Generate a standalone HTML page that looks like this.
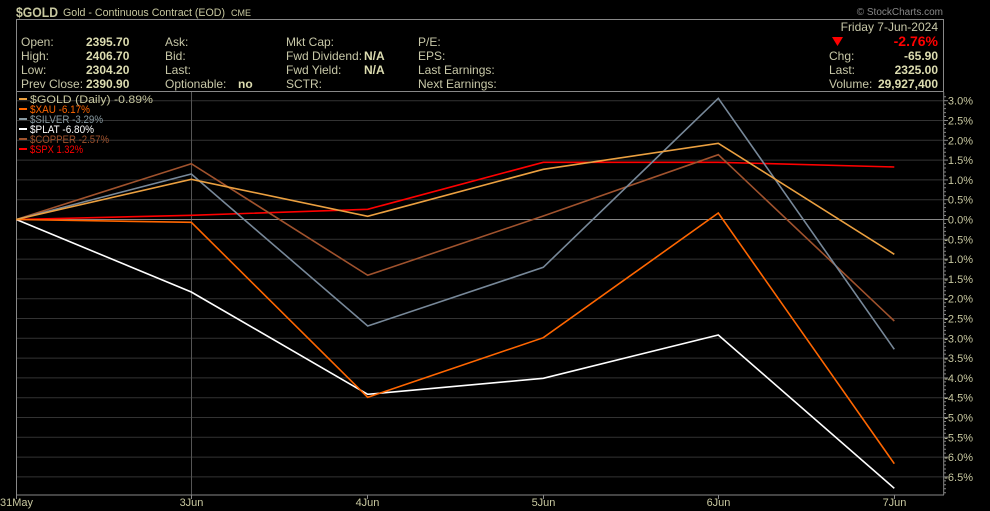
<!DOCTYPE html>
<html><head><meta charset="utf-8"><style>
html,body{margin:0;padding:0;background:#000;}
svg{display:block;}
text{font-family:"Liberation Sans",Arial,sans-serif;}
</style></head><body>
<svg width="990" height="511" viewBox="0 0 990 511" xmlns="http://www.w3.org/2000/svg">
<rect width="990" height="511" fill="#000"/>
<!-- title -->
<text x="16" y="17" font-size="14" font-weight="bold" fill="#c8c8a0" textLength="42" lengthAdjust="spacingAndGlyphs">$GOLD</text>
<text x="63" y="16" font-size="11" fill="#c8c8a0" textLength="162" lengthAdjust="spacingAndGlyphs">Gold - Continuous Contract (EOD)</text>
<text x="231" y="16" font-size="9" fill="#c8c8a0">CME</text>
<text x="943" y="15" font-size="10" fill="#888" text-anchor="end">© StockCharts.com</text>
<!-- header box -->
<rect x="16.5" y="19.5" width="927" height="72" fill="none" stroke="#888" stroke-width="1"/>
<g font-size="12" fill="#c8c8a8">
<text x="21" y="46">Open:</text>
<text x="21" y="60">High:</text>
<text x="21" y="74">Low:</text>
<text x="21" y="88">Prev Close:</text>
<text x="165" y="46">Ask:</text>
<text x="165" y="60">Bid:</text>
<text x="165" y="74">Last:</text>
<text x="165" y="88">Optionable:</text>
<text x="286" y="46">Mkt Cap:</text>
<text x="286" y="60">Fwd Dividend:</text>
<text x="286" y="74">Fwd Yield:</text>
<text x="286" y="88">SCTR:</text>
<text x="418" y="46">P/E:</text>
<text x="418" y="60">EPS:</text>
<text x="418" y="74">Last Earnings:</text>
<text x="418" y="88">Next Earnings:</text>
<text x="938" y="31" text-anchor="end">Friday  7-Jun-2024</text>
<text x="829" y="60">Chg:</text>
<text x="829" y="74">Last:</text>
<text x="829" y="88">Volume:</text>
</g>
<g font-size="12" font-weight="bold" fill="#dcdcb0">
<text x="86" y="46">2395.70</text>
<text x="86" y="60">2406.70</text>
<text x="86" y="74">2304.20</text>
<text x="86" y="88">2390.90</text>
<text x="238" y="88">no</text>
<text x="364" y="60">N/A</text>
<text x="364" y="74">N/A</text>
<text x="938" y="60" text-anchor="end">-65.90</text>
<text x="938" y="74" text-anchor="end">2325.00</text>
<text x="938" y="88" text-anchor="end">29,927,400</text>
</g>
<polygon points="832,37 843,37 837.5,46" fill="#ff0000"/>
<text x="938" y="46" font-size="14" font-weight="bold" fill="#ff0000" text-anchor="end">-2.76%</text>

<!-- grid -->
<g stroke="#333" stroke-width="1">
<line x1="16" x2="944" y1="100.7" y2="100.7"/>
<line x1="16" x2="944" y1="120.5" y2="120.5"/>
<line x1="16" x2="944" y1="140.3" y2="140.3"/>
<line x1="16" x2="944" y1="160.1" y2="160.1"/>
<line x1="16" x2="944" y1="179.9" y2="179.9"/>
<line x1="16" x2="944" y1="199.7" y2="199.7"/>
<line x1="16" x2="944" y1="239.3" y2="239.3"/>
<line x1="16" x2="944" y1="259.1" y2="259.1"/>
<line x1="16" x2="944" y1="278.9" y2="278.9"/>
<line x1="16" x2="944" y1="298.7" y2="298.7"/>
<line x1="16" x2="944" y1="318.5" y2="318.5"/>
<line x1="16" x2="944" y1="338.3" y2="338.3"/>
<line x1="16" x2="944" y1="358.1" y2="358.1"/>
<line x1="16" x2="944" y1="377.9" y2="377.9"/>
<line x1="16" x2="944" y1="397.7" y2="397.7"/>
<line x1="16" x2="944" y1="417.5" y2="417.5"/>
<line x1="16" x2="944" y1="437.3" y2="437.3"/>
<line x1="16" x2="944" y1="457.1" y2="457.1"/>
<line x1="16" x2="944" y1="476.9" y2="476.9"/>
</g>
<line x1="191.5" x2="191.5" y1="92" y2="495" stroke="#555" stroke-width="1"/>
<line x1="16" x2="944" y1="219.5" y2="219.5" stroke="#888" stroke-width="1"/>

<!-- axes -->
<line x1="16.5" x2="16.5" y1="92" y2="495" stroke="#888" stroke-width="1"/>
<line x1="16" x2="944" y1="495" y2="495" stroke="#888" stroke-width="1"/>
<line x1="943.7" x2="943.7" y1="92" y2="495" stroke="#888" stroke-width="1"/>
<g stroke="#888" stroke-width="1">
<line x1="944" x2="948" y1="100.7" y2="100.7"/><line x1="944" x2="948" y1="120.5" y2="120.5"/>
<line x1="944" x2="948" y1="140.3" y2="140.3"/><line x1="944" x2="948" y1="160.1" y2="160.1"/>
<line x1="944" x2="948" y1="179.9" y2="179.9"/><line x1="944" x2="948" y1="199.7" y2="199.7"/>
<line x1="944" x2="948" y1="219.5" y2="219.5"/><line x1="944" x2="948" y1="239.3" y2="239.3"/>
<line x1="944" x2="948" y1="259.1" y2="259.1"/><line x1="944" x2="948" y1="278.9" y2="278.9"/>
<line x1="944" x2="948" y1="298.7" y2="298.7"/><line x1="944" x2="948" y1="318.5" y2="318.5"/>
<line x1="944" x2="948" y1="338.3" y2="338.3"/><line x1="944" x2="948" y1="358.1" y2="358.1"/>
<line x1="944" x2="948" y1="377.9" y2="377.9"/><line x1="944" x2="948" y1="397.7" y2="397.7"/>
<line x1="944" x2="948" y1="417.5" y2="417.5"/><line x1="944" x2="948" y1="437.3" y2="437.3"/>
<line x1="944" x2="948" y1="457.1" y2="457.1"/><line x1="944" x2="948" y1="476.9" y2="476.9"/>
<line x1="16.5" x2="16.5" y1="495" y2="499"/><line x1="191.5" x2="191.5" y1="495" y2="499"/>
<line x1="367.5" x2="367.5" y1="495" y2="499"/><line x1="543.5" x2="543.5" y1="495" y2="499"/>
<line x1="718.5" x2="718.5" y1="495" y2="499"/><line x1="894.5" x2="894.5" y1="495" y2="499"/>
</g>
<path d="M944 96.7h2M944 104.7h2M944 108.6h2M944 112.6h2M944 116.5h2M944 124.5h2M944 128.4h2M944 132.4h2M944 136.3h2M944 144.3h2M944 148.2h2M944 152.2h2M944 156.1h2M944 164.1h2M944 168h2M944 172h2M944 175.9h2M944 183.9h2M944 187.8h2M944 191.8h2M944 195.7h2M944 203.7h2M944 207.6h2M944 211.6h2M944 215.5h2M944 223.5h2M944 227.4h2M944 231.4h2M944 235.3h2M944 243.3h2M944 247.2h2M944 251.2h2M944 255.1h2M944 263.1h2M944 267h2M944 271h2M944 274.9h2M944 282.9h2M944 286.8h2M944 290.8h2M944 294.7h2M944 302.7h2M944 306.6h2M944 310.6h2M944 314.5h2M944 322.5h2M944 326.4h2M944 330.4h2M944 334.3h2M944 342.3h2M944 346.2h2M944 350.2h2M944 354.1h2M944 362.1h2M944 366h2M944 370h2M944 373.9h2M944 381.9h2M944 385.8h2M944 389.8h2M944 393.7h2M944 401.7h2M944 405.6h2M944 409.6h2M944 413.5h2M944 421.5h2M944 425.4h2M944 429.4h2M944 433.3h2M944 441.3h2M944 445.2h2M944 449.2h2M944 453.1h2M944 461.1h2M944 465h2M944 469h2M944 472.9h2M944 480.9h2M944 484.8h2M944 488.8h2M944 492.7h2" stroke="#888" stroke-width="1"/>

<g font-size="11" fill="#c8c8a0" text-anchor="end">
<text x="973" y="104.7">3.0%</text><text x="973" y="124.5">2.5%</text>
<text x="973" y="144.3">2.0%</text><text x="973" y="164.1">1.5%</text>
<text x="973" y="183.9">1.0%</text><text x="973" y="203.7">0.5%</text>
<text x="973" y="223.5">0.0%</text><text x="973" y="243.3">-0.5%</text>
<text x="973" y="263.1">-1.0%</text><text x="973" y="282.9">-1.5%</text>
<text x="973" y="302.7">-2.0%</text><text x="973" y="322.5">-2.5%</text>
<text x="973" y="342.3">-3.0%</text><text x="973" y="362.1">-3.5%</text>
<text x="973" y="381.9">-4.0%</text><text x="973" y="401.7">-4.5%</text>
<text x="973" y="421.5">-5.0%</text><text x="973" y="441.3">-5.5%</text>
<text x="973" y="461.1">-6.0%</text><text x="973" y="480.9">-6.5%</text>
</g>
<g font-size="11" fill="#c8c8a0" text-anchor="middle">
<text x="0" y="506" text-anchor="start">31May</text>
<text x="191.5" y="506">3Jun</text>
<text x="367.5" y="506">4Jun</text>
<text x="543.5" y="506">5Jun</text>
<text x="718.5" y="506">6Jun</text>
<text x="894.5" y="506">7Jun</text>
</g>

<!-- series -->
<g fill="none" stroke-width="1.6" stroke-linejoin="miter">
<polyline stroke="#ff0000" points="16.3,219.5 191.3,215.3 367.7,209.3 543.3,162.3 718.3,162.3 894.3,167"/>
<polyline stroke="#a0522d" points="16.3,219.5 191.3,163.7 367.7,275.3 543.3,216 718.3,154.7 894.3,321"/>
<polyline stroke="#ffffff" points="16.3,219.5 191.3,292 367.7,394.3 543.3,378.3 718.3,335 894.3,488.3"/>
<polyline stroke="#778899" points="16.3,219.5 191.3,174 367.7,326 543.3,267.3 718.3,98.3 894.3,349.3"/>
<polyline stroke="#ff6600" points="16.3,219.5 191.3,222.3 367.7,397.3 543.3,337.7 718.3,213 894.3,463.7"/>
<polyline stroke="#eba040" points="16.3,219.5 191.3,179.3 367.7,216.3 543.3,169.3 718.3,143.3 894.3,254.3"/>
</g>

<!-- legend -->
<g stroke-width="2">
<line x1="19" x2="27" y1="99" y2="99" stroke="#eba040"/>
<line x1="19" x2="27" y1="109" y2="109" stroke="#ff6600"/>
<line x1="19" x2="27" y1="119" y2="119" stroke="#8899a0"/>
<line x1="19" x2="27" y1="129" y2="129" stroke="#ffffff"/>
<line x1="19" x2="27" y1="139" y2="139" stroke="#a0522d"/>
<line x1="19" x2="27" y1="149" y2="149" stroke="#ff0000"/>
</g>
<g font-size="11">
<text x="30" y="103" fill="#c8c8a0" textLength="123" lengthAdjust="spacingAndGlyphs">$GOLD (Daily) -0.89%</text>
<text x="30" y="113" fill="#ff6600" textLength="60" lengthAdjust="spacingAndGlyphs">$XAU -6.17%</text>
<text x="30" y="123" fill="#8899a0" textLength="73" lengthAdjust="spacingAndGlyphs">$SILVER -3.29%</text>
<text x="30" y="133" fill="#ffffff" textLength="64" lengthAdjust="spacingAndGlyphs">$PLAT -6.80%</text>
<text x="30" y="143" fill="#a0522d" textLength="79" lengthAdjust="spacingAndGlyphs">$COPPER -2.57%</text>
<text x="30" y="153" fill="#ff0000" textLength="53" lengthAdjust="spacingAndGlyphs">$SPX 1.32%</text>
</g>
</svg>
</body></html>
